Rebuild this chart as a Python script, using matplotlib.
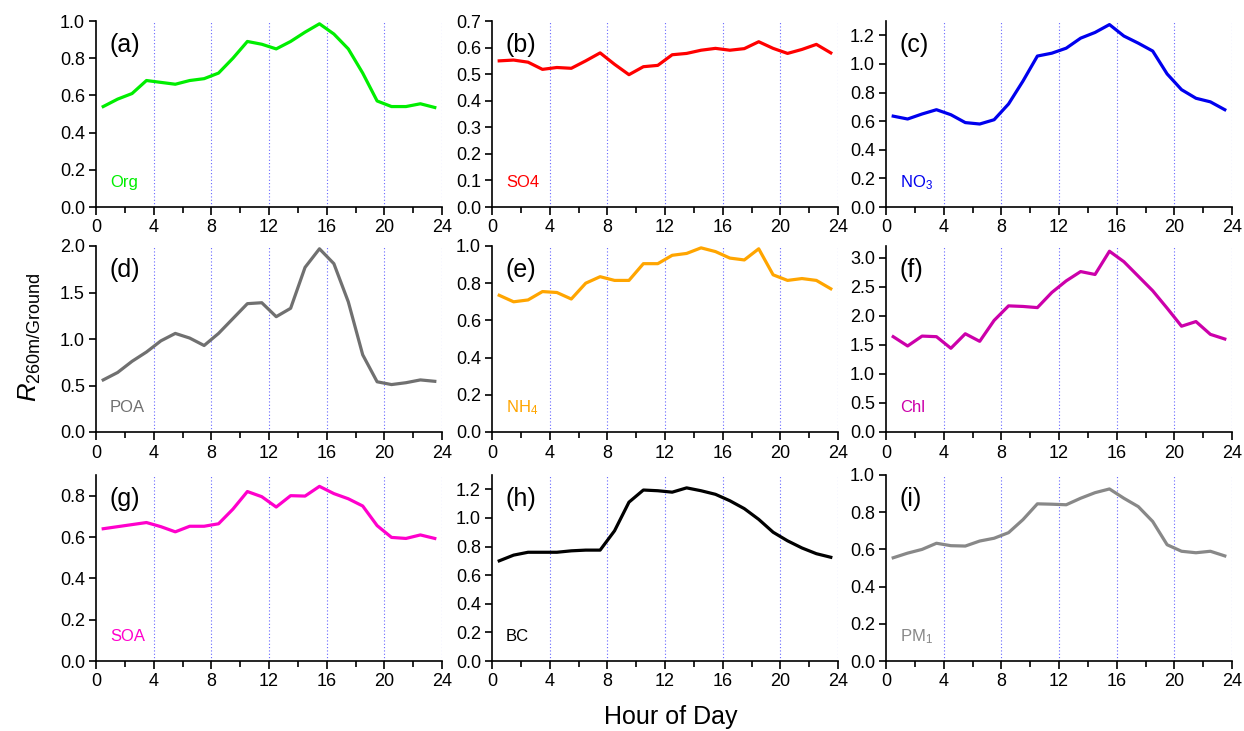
import matplotlib
matplotlib.use('Agg')
import matplotlib.pyplot as plt
import numpy as np

plt.rcParams['font.family'] = ['Liberation Sans', 'DejaVu Sans']
plt.rcParams['mathtext.fontset'] = 'custom'
plt.rcParams['mathtext.rm'] = 'Liberation Sans'
plt.rcParams['mathtext.it'] = 'Liberation Sans:italic'

hours = np.arange(24) + 0.5

org = [0.54, 0.58, 0.61, 0.68, 0.67, 0.66, 0.68, 0.69, 0.72, 0.80, 0.89, 0.875,
       0.85, 0.89, 0.94, 0.985, 0.93, 0.85, 0.72, 0.57, 0.54, 0.54, 0.555, 0.535]
so4 = [0.55, 0.553, 0.545, 0.518, 0.525, 0.522, 0.55, 0.58, 0.537, 0.498, 0.528, 0.533,
       0.573, 0.578, 0.59, 0.597, 0.59, 0.596, 0.622, 0.597, 0.578, 0.593, 0.612, 0.58]
no3 = [0.635, 0.615, 0.65, 0.68, 0.645, 0.59, 0.58, 0.61, 0.72, 0.88, 1.055, 1.075,
       1.11, 1.18, 1.22, 1.275, 1.195, 1.145, 1.09, 0.93, 0.82, 0.76, 0.735, 0.68]
poa = [0.56, 0.64, 0.76, 0.86, 0.98, 1.06, 1.01, 0.93, 1.06, 1.22, 1.38, 1.39,
       1.24, 1.33, 1.77, 1.97, 1.81, 1.40, 0.83, 0.54, 0.51, 0.53, 0.56, 0.545]
nh4 = [0.735, 0.70, 0.71, 0.755, 0.75, 0.715, 0.80, 0.835, 0.815, 0.815, 0.905, 0.905,
       0.95, 0.96, 0.99, 0.97, 0.935, 0.925, 0.985, 0.845, 0.815, 0.825, 0.815, 0.77]
chl = [1.64, 1.48, 1.65, 1.64, 1.44, 1.69, 1.56, 1.92, 2.17, 2.16, 2.14, 2.40,
       2.60, 2.76, 2.71, 3.11, 2.93, 2.68, 2.43, 2.13, 1.82, 1.90, 1.68, 1.60]
soa = [0.64, 0.65, 0.66, 0.67, 0.65, 0.625, 0.652, 0.652, 0.664, 0.735, 0.82, 0.795,
       0.745, 0.80, 0.798, 0.845, 0.81, 0.785, 0.75, 0.655, 0.598, 0.593, 0.61, 0.593]
bc = [0.70, 0.74, 0.76, 0.76, 0.76, 0.77, 0.775, 0.775, 0.91, 1.11, 1.195, 1.19,
      1.18, 1.21, 1.19, 1.165, 1.12, 1.065, 0.99, 0.90, 0.84, 0.79, 0.75, 0.725]
pm1 = [0.555, 0.58, 0.60, 0.633, 0.62, 0.618, 0.645, 0.66, 0.69, 0.76, 0.845, 0.843,
       0.84, 0.875, 0.905, 0.925, 0.875, 0.83, 0.75, 0.625, 0.59, 0.582, 0.59, 0.565]

series = [org, so4, no3, poa, nh4, chl, soa, bc, pm1]
names = ['Org', 'SO4', r'NO$_3$', 'POA', r'NH$_4$', 'Chl', 'SOA', 'BC', r'PM$_1$']
letters = ['(a)', '(b)', '(c)', '(d)', '(e)', '(f)', '(g)', '(h)', '(i)']
colors = ['#00ee00', '#ff0000', '#0000ee', '#707070', '#ffa500', '#cc00aa',
          '#ff00cc', '#000000', '#888888']
ytops = [1.0, 0.7, 1.3, 2.0, 1.0, 3.2, 0.9, 1.3, 1.0]
ysteps = [0.2, 0.1, 0.2, 0.5, 0.2, 0.5, 0.2, 0.2, 0.2]

fig = plt.figure(figsize=(12.44, 7.31), dpi=100)

lefts = [96, 492, 886]
bottoms = [207, 432, 661]
w, h = 346, 186

for i in range(9):
    r, c = divmod(i, 3)
    ax = fig.add_axes([lefts[c] / 1244, 1 - bottoms[r] / 731, w / 1244, h / 731])
    for xv in range(4, 25, 4):
        ax.axvline(xv, color='#6666ff', lw=0.8, ls=(0, (1, 2)), zorder=1)
    ax.plot(hours, series[i], color=colors[i], lw=2.3, zorder=3)
    ax.set_xlim(0, 24)
    ax.set_ylim(0, ytops[i])
    ax.set_xticks(range(0, 25, 4))
    ax.set_xticks(range(2, 24, 4), minor=True)
    ax.set_yticks(np.arange(0, ytops[i] + 1e-6, ysteps[i]))
    ax.yaxis.set_major_formatter(matplotlib.ticker.FormatStrFormatter('%.1f'))
    ax.spines['top'].set_visible(False)
    ax.spines['right'].set_visible(False)
    ax.spines['left'].set_linewidth(1.2)
    ax.spines['bottom'].set_linewidth(1.2)
    ax.tick_params(which='major', direction='out', length=6, width=1.2,
                   labelsize=13, pad=3)
    ax.tick_params(axis='y', which='major', length=5)
    ax.tick_params(which='minor', direction='out', length=4, width=1.2)
    ax.text(0.04, 0.87, letters[i], transform=ax.transAxes, fontsize=18,
            va='center', ha='left')
    ax.text(0.04, 0.13, names[i], transform=ax.transAxes, fontsize=12,
            va='center', ha='left', color=colors[i])

fig.text(0.024, 0.539, r'$R_{\mathrm{260m/Ground}}$', rotation=90, fontsize=18.5,
         ha='center', va='center')
fig.text(0.539, 0.019, 'Hour of Day', fontsize=18, ha='center', va='center')

fig.savefig('out.png', dpi=100)
